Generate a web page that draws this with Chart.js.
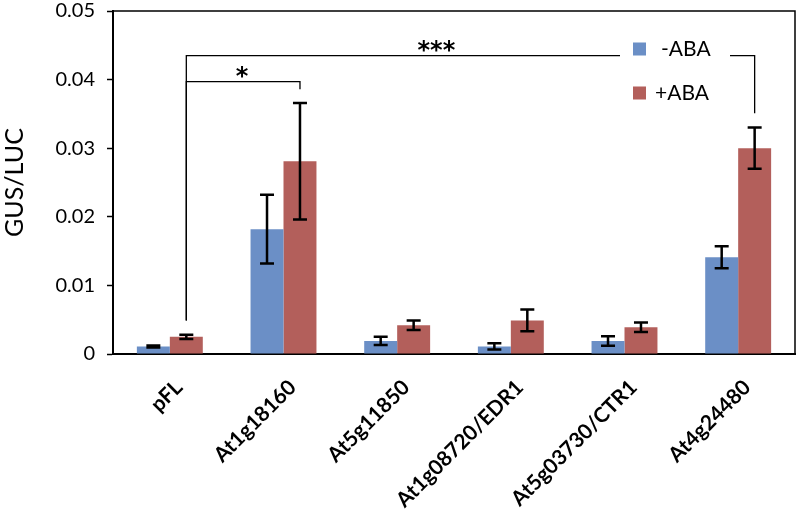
<!DOCTYPE html>
<html>
<head>
<meta charset="utf-8">
<script src="https://cdn.jsdelivr.net/npm/chart.js@4/dist/chart.umd.min.js"></script>
<style>
html,body{margin:0;padding:0;background:#fff;}
#wrap{width:798px;height:509px;position:relative;}
</style>
</head>
<body>
<div id="wrap"><canvas id="c" width="798" height="509"></canvas></div>
<script>
// ---- data ----
const categories = ['pFL', 'At1g18160', 'At5g11850', 'At1g08720/EDR1', 'At5g03730/CTR1', 'At4g24480'];
const seriesNames = ['-ABA', '+ABA'];
const minusABA    = [0.0011, 0.0182, 0.0019, 0.0011, 0.0019, 0.0141];
const minusABAErr = [0.00015, 0.0050, 0.0006, 0.00045, 0.0007, 0.0016];
const plusABA     = [0.0025, 0.0281, 0.0042, 0.0049, 0.0039, 0.0300];
const plusABAErr  = [0.0003, 0.0085, 0.0007, 0.0016, 0.0007, 0.0030];
const yTicks = [0, 0.01, 0.02, 0.03, 0.04, 0.05];
const yTickLabels = ['0', '0.01', '0.02', '0.03', '0.04', '0.05'];
const yTitle = 'GUS/LUC';
// significance brackets: from category (series +ABA) to category, top level, drop ends, label
const bracketFrom   = [0, 0];
const bracketTo     = [1, 5];
const bracketTop    = [0.0397, 0.0435];
const bracketFromEnd = [0.0049, 0.0049];
const bracketToEnd  = [0.0386, 0.0351];
const bracketLabels = ['*', '***'];
const bracketLabelAt = [0.49, 0.44]; // fraction along the span

const colors = ['#6b8fc6', '#b35f5b'];
const FONT = 'Lato, "Open Sans", sans-serif';

const errorBars = {
  id: 'errorBars',
  afterDatasetsDraw(chart) {
    const ctx = chart.ctx, y = chart.scales.y;
    const errs = [minusABAErr, plusABAErr];
    const vals = [minusABA, plusABA];
    ctx.save();
    ctx.strokeStyle = '#000';
    ctx.lineWidth = 2.5;
    chart.data.datasets.forEach((ds, di) => {
      const meta = chart.getDatasetMeta(di);
      meta.data.forEach((bar, i) => {
        const x = bar.x;
        const yt = y.getPixelForValue(vals[di][i] + errs[di][i]);
        const yb = y.getPixelForValue(vals[di][i] - errs[di][i]);
        const w = 7;
        ctx.beginPath();
        ctx.moveTo(x, yt); ctx.lineTo(x, yb);
        ctx.moveTo(x - w, yt); ctx.lineTo(x + w, yt);
        ctx.moveTo(x - w, yb); ctx.lineTo(x + w, yb);
        ctx.stroke();
      });
    });
    ctx.restore();
  }
};

const frameAndBrackets = {
  id: 'frameAndBrackets',
  afterDraw(chart) {
    const ctx = chart.ctx, y = chart.scales.y, a = chart.chartArea;
    const meta = chart.getDatasetMeta(1);
    ctx.save();
    // frame top & right
    ctx.strokeStyle = '#000';
    ctx.lineWidth = 1.5;
    ctx.beginPath();
    ctx.moveTo(a.left, a.top); ctx.lineTo(a.right, a.top); ctx.lineTo(a.right, a.bottom);
    ctx.stroke();
    // brackets
    ctx.lineWidth = 1.3;
    ctx.fillStyle = '#000';
    for (let k = 0; k < bracketFrom.length; k++) {
      const x1 = meta.data[bracketFrom[k]].x, x2 = meta.data[bracketTo[k]].x;
      const yt = y.getPixelForValue(bracketTop[k]);
      ctx.beginPath();
      ctx.moveTo(x1, y.getPixelForValue(bracketFromEnd[k]));
      ctx.lineTo(x1, yt); ctx.lineTo(x2, yt);
      ctx.lineTo(x2, y.getPixelForValue(bracketToEnd[k]));
      ctx.stroke();
      ctx.font = 'bold 24px "DejaVu Sans", sans-serif';
      ctx.textAlign = 'center';
      ctx.textBaseline = 'alphabetic';
      const m = ctx.measureText(bracketLabels[k]);
      const ty = yt - 10 - (m.actualBoundingBoxDescent - m.actualBoundingBoxAscent) / 2;
      ctx.fillText(bracketLabels[k], x1 + (x2 - x1) * bracketLabelAt[k], ty);
    }
    // legend (inside plot, white box covering bracket line)
    const lx = a.right - 175, ly = a.top + 22;
    ctx.fillStyle = '#fff';
    ctx.fillRect(lx, ly, 110, 80);
    ctx.font = '21px ' + FONT;
    ctx.textAlign = 'left';
    ctx.textBaseline = 'middle';
    seriesNames.forEach((n, i) => {
      const cy = ly + 16 + i * 44;
      ctx.fillStyle = colors[i];
      ctx.fillRect(lx + 13, cy - 6.5, 13, 13);
      ctx.fillStyle = '#000';
      ctx.fillText(n, lx + (i === 0 ? 41 : 35), cy);
    });
    ctx.restore();
  }
};

new Chart(document.getElementById('c'), {
  type: 'bar',
  data: {
    labels: categories,
    datasets: [
      { label: seriesNames[0], data: minusABA, backgroundColor: colors[0], borderWidth: 0 },
      { label: seriesNames[1], data: plusABA, backgroundColor: colors[1], borderWidth: 0 }
    ]
  },
  options: {
    responsive: false,
    animation: false,
    layout: { padding: { left: 0, right: 3, top: 11, bottom: 0 } },
    datasets: { bar: { categoryPercentage: 0.58, barPercentage: 1.0 } },
    plugins: { legend: { display: false }, tooltip: { enabled: false } },
    scales: {
      x: {
        grid: { display: false },
        border: { display: true, color: '#000', width: 2 },
        ticks: {
          color: '#000', minRotation: 45, maxRotation: 45, padding: 13, labelOffset: 9,
          font: { family: FONT, size: 21, weight: 'bold' }
        },
        afterFit(s) { s.height = 155; s.paddingLeft = 0; s.paddingRight = 0; }
      },
      y: {
        min: 0, max: 0.05,
        afterBuildTicks(s) { s.ticks = yTicks.map(v => ({ value: v })); },
        grid: { display: true, drawOnChartArea: false, drawTicks: true, tickLength: 6, tickColor: '#000', tickWidth: 1.5 },
        border: { display: true, color: '#000', width: 2 },
        ticks: {
          color: '#000', padding: 12,
          font: { family: FONT, size: 20 },
          callback: (v, i) => yTickLabels[yTicks.indexOf(v)]
        },
        title: { display: true, text: yTitle, color: '#000', font: { family: FONT, size: 25 }, padding: { top: 0, bottom: 0 } },
        afterFit(s) { s.width = 113; s.paddingTop = 0; s.paddingBottom = 0; }
      }
    }
  },
  plugins: [errorBars, frameAndBrackets]
});
</script>
</body>
</html>
